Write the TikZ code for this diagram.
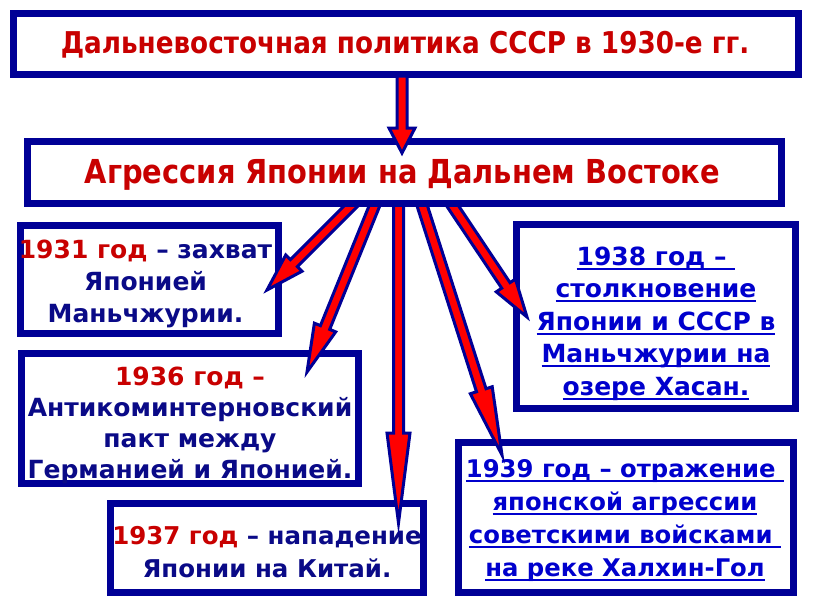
\documentclass[tikz,border=0pt]{standalone}
\usepackage{fontspec}
\setmainfont{DejaVu Sans}
\newfontfamily\condfont{DejaVu Sans}[FakeStretch=0.875]
\usetikzlibrary{calc}
\definecolor{navy}{RGB}{0,0,150}
\definecolor{txtnavy}{RGB}{10,10,135}
\definecolor{dred}{RGB}{200,0,0}
\definecolor{lblue}{RGB}{0,0,205}
\definecolor{ared}{RGB}{255,0,0}
\newcommand\ulx[1]{\setbox0\hbox{#1}\rlap{\rule[-4.5pt]{\wd0}{1.8pt}}\box0}
\tikzset{
  box/.style={draw=navy, line width=7pt, fill=white, rectangle, inner sep=0pt},
  boxtext/.style={align=center, inner sep=0pt, text=txtnavy, font=\bfseries\fontsize{25}{32}\selectfont},
  linktext/.style={align=center, inner sep=0pt, text=lblue, font=\bfseries\fontsize{25}{32.5}\selectfont},
  arrowst/.style={draw=navy, fill=ared, line width=3pt},
}
\newcommand\blockarrow[4]{%
  \coordinate (ba-h) at ($(#2)!#3!(#1)$);
  \filldraw[arrowst] ($(#1)!5pt!90:(#2)$) -- ($(ba-h)!5pt!90:(#2)$) -- ($(ba-h)!#4!90:(#2)$) -- (#2)
    -- ($(ba-h)!#4!-90:(#2)$) -- ($(ba-h)!5pt!-90:(#2)$) -- ($(#1)!5pt!-90:(#2)$) -- cycle;
}
\begin{document}
\begin{tikzpicture}[x=1pt,y=-1pt]
\fill[white] (0,0) rectangle (816,613);
\useasboundingbox (0,0) rectangle (816,613);

% top box
\node[box, minimum width=785pt, minimum height=61pt] (top) at (406,44) {};
\node[inner sep=0pt, text=dred, font=\condfont\bfseries\fontsize{30}{34}\selectfont] (toptext) at (405,45) {Дальневосточная политика СССР в 1930-е гг.};

% target boxes
\node[box, minimum width=258pt, minimum height=108pt] (b1931) at (149.5,279.5) {};
\node[box, minimum width=337pt, minimum height=130pt] (b1936) at (190,418.5) {};
\node[box, minimum width=313pt, minimum height=89pt] (b1937) at (267,548) {};
\node[box, minimum width=279pt, minimum height=184pt] (b1938) at (656,316.5) {};
\node[box, minimum width=335pt, minimum height=150pt] (b1939) at (626,517.5) {};

\node[boxtext] (t1931) at ($(b1931)+(-4,4)$) {{\color{dred}1931 год} – захват\\Японией\\Маньчжурии.};
\node[boxtext, font=\bfseries\fontsize{25}{31}\selectfont] (t1936) at ($(b1936)+(0,7)$) {{\color{dred}1936 год –}\\Антикоминтерновский\\пакт между\\Германией и Японией.};
\node[boxtext, font=\bfseries\fontsize{24.5}{33}\selectfont] (t1937) at ($(b1937)+(0,4)$) {{\color{dred}1937 год} – нападение\\Японии на Китай.};
\node[linktext] (t1938) at ($(b1938)+(0,7)$) {\ulx{1938 год – }\\\ulx{столкновение}\\\ulx{Японии и СССР в}\\\ulx{Маньчжурии на}\\\ulx{озере Хасан.}};
\node[linktext, font=\bfseries\fontsize{24.3}{33}\selectfont] (t1939) at ($(b1939)+(-1,3)$) {\ulx{1939 год – отражение }\\\ulx{японской агрессии}\\\ulx{советскими войсками }\\\ulx{на реке Халхин-Гол}};

% arrow tips
\coordinate (tip1931) at (267,290);
\coordinate (tip1936) at (307,372);
\coordinate (tip1937) at (398.5,523);
\coordinate (tip1939) at (502,455);
\coordinate (tip1938) at (527,317);

% arrow starts, hidden under the second box
\path (404.5,172.5) coordinate (aggc);
\coordinate (s1) at (355,202);
\coordinate (s2) at (376,202);
\coordinate (s3) at (398.5,202);
\coordinate (s4) at (421,202);
\coordinate (s5) at (450,202);

\blockarrow{s1}{tip1931}{38pt}{11.5pt}
\blockarrow{s2}{tip1936}{48pt}{11.5pt}
\blockarrow{s3}{tip1937}{90pt}{11.5pt}
\blockarrow{s4}{tip1939}{68pt}{11.5pt}
\blockarrow{s5}{tip1938}{38pt}{11.5pt}

\node[box, minimum width=754pt, minimum height=62pt] (agg) at (aggc) {};
\node[inner sep=0pt, text=dred, font=\condfont\bfseries\fontsize{33}{36}\selectfont] (aggtext) at ($(agg)+(-2,2)$) {Агрессия Японии на Дальнем Востоке};

% top arrow
\coordinate (tiptop) at (402,153);
\coordinate (stop) at ($(top.south)+(-4,-2)$);
\blockarrow{stop}{tiptop}{25pt}{13pt}
\end{tikzpicture}
\end{document}
